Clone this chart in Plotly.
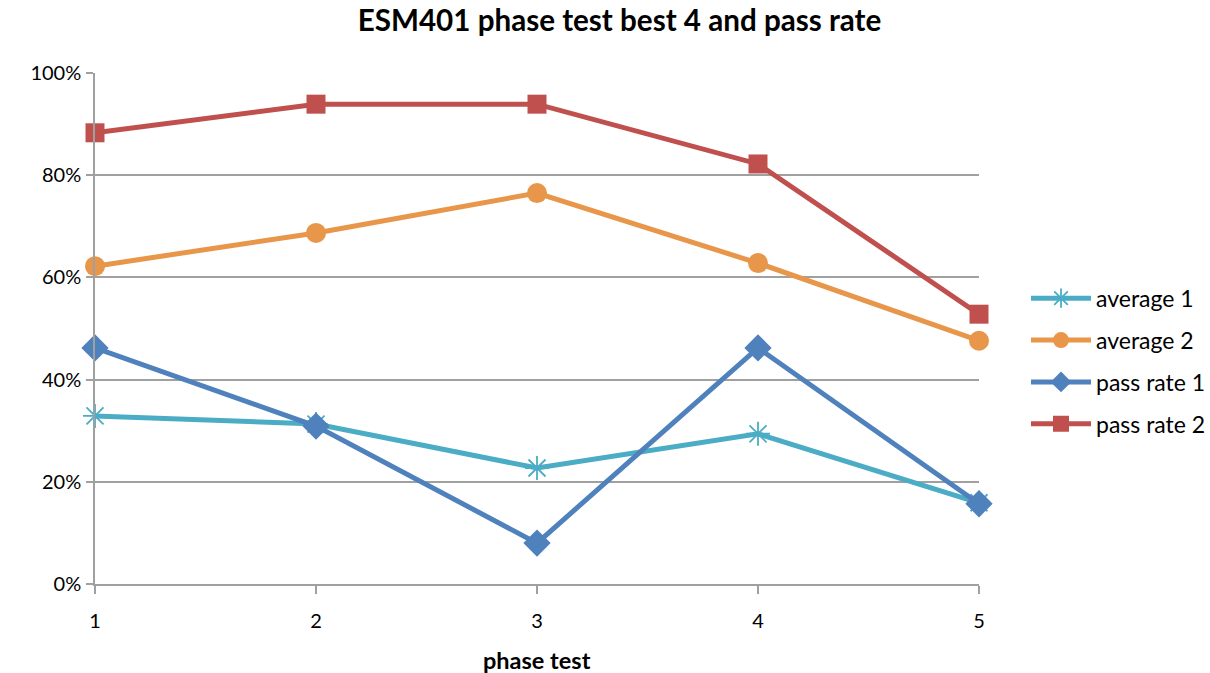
import plotly.graph_objects as go

phase_tests = [1, 2, 3, 4, 5]
average_1 = [0.329, 0.313, 0.227, 0.294, 0.159]
average_2 = [0.622, 0.687, 0.765, 0.628, 0.476]
pass_rate_1 = [0.462, 0.309, 0.080, 0.462, 0.157]
pass_rate_2 = [0.883, 0.939, 0.939, 0.822, 0.528]

FONT = "Lato, 'Open Sans', sans-serif"

fig = go.Figure()

series = [
    ("average 1", average_1, "#4BACC6", dict(symbol="asterisk-open", size=20, line=dict(width=1.8, color="#4BACC6"))),
    ("average 2", average_2, "#E8964A", dict(symbol="circle", size=20, color="#E8964A")),
    ("pass rate 1", pass_rate_1, "#4F81BD", dict(symbol="diamond", size=21, color="#4F81BD")),
    ("pass rate 2", pass_rate_2, "#C0504D", dict(symbol="square", size=19, color="#C0504D")),
]

for name, vals, color, marker in series:
    fig.add_trace(go.Scatter(
        x=phase_tests, y=vals, name=name, mode="lines+markers", legendgroup=name,
        line=dict(color=color, width=5),
        marker=marker, cliponaxis=False,
    ))

fig.update_layout(
    width=1210, height=673,
    margin=dict(l=95, r=231, t=73, b=89),
    paper_bgcolor="white", plot_bgcolor="white",
    font=dict(family=FONT, size=20, color="#000000"),
    title=dict(text="<b>ESM401 phase test best 4 and pass rate</b>", x=0.512, xanchor="center",
               y=0.985, yanchor="top", font=dict(size=29.6, family=FONT)),
    legend=dict(xref="container", x=1026 / 1210, xanchor="left", y=0.436, yanchor="middle",
                font=dict(size=23, family=FONT), itemwidth=60, tracegroupgap=9,
                bgcolor="rgba(0,0,0,0)"),
    showlegend=True,
    annotations=[dict(text="<b>phase test</b>", xref="paper", yref="paper",
                      x=0.5, y=(584 - 660) / 511, xanchor="center", yanchor="middle",
                      showarrow=False, font=dict(size=23.5, family=FONT))],
)

fig.update_xaxes(
    range=[1, 5], tickvals=phase_tests, ticktext=[str(v) for v in phase_tests],
    showgrid=False, showline=True, linecolor="#A0A0A0", linewidth=1.5,
    ticks="outside", ticklen=8, tickcolor="#A0A0A0", tickwidth=1.5,
    zeroline=False, ticklabelstandoff=10, automargin=False,
    tickfont=dict(size=20, family=FONT),
)
fig.update_yaxes(
    range=[0, 1], tickvals=[0, 0.2, 0.4, 0.6, 0.8, 1.0], tickformat=".0%",
    showgrid=True, gridcolor="#A0A0A0", gridwidth=1.5,
    showline=True, linecolor="#A0A0A0", linewidth=1.5,
    ticks="outside", ticklen=7, tickcolor="#A0A0A0", tickwidth=1.5,
    zeroline=False, ticklabelstandoff=1, automargin=False,
    tickfont=dict(size=20, family=FONT),
)

fig.write_html("out.html")
